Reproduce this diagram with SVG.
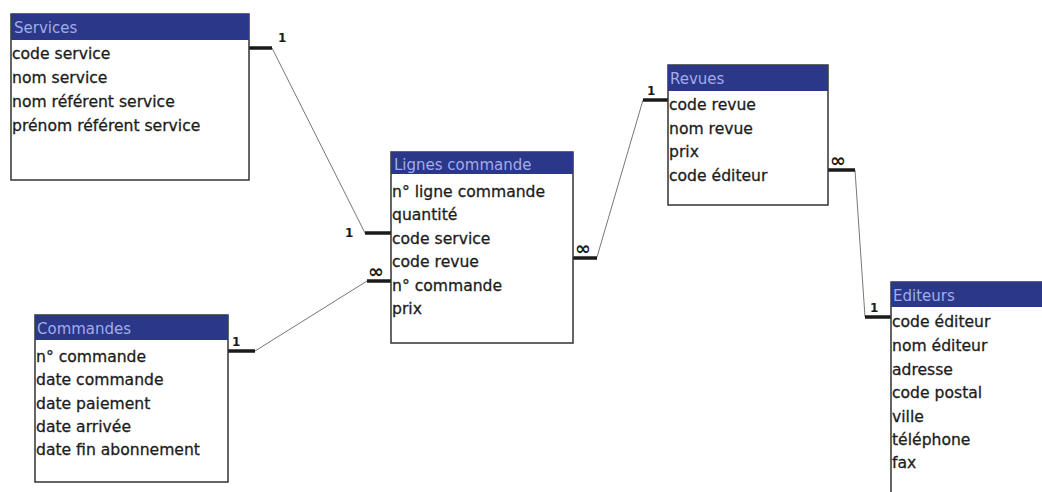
<svg xmlns="http://www.w3.org/2000/svg" width="1042" height="492" viewBox="0 0 1042 492">
<style>
.box{fill:#fff;stroke:#333;stroke-width:1.5}
.hdr{fill:#2b3788}
.ht{font-family:"DejaVu Sans",sans-serif;font-size:15px;fill:#a3ace8}
.rt{font-family:"DejaVu Sans",sans-serif;font-size:15.6px;fill:#1c1c1c;stroke:#1c1c1c;stroke-width:0.3}
.stub{stroke:#1a1a1a;stroke-width:3.5;fill:none}
.ln{stroke:#777;stroke-width:1;fill:none}
.card{font-family:"DejaVu Sans",sans-serif;font-size:12px;font-weight:bold;fill:#1a1a1a}
.inf{font-family:"DejaVu Sans",sans-serif;font-size:19px;font-weight:bold;fill:#1a1a1a}
</style>
<rect width="1042" height="492" fill="#fff"/>
<g id="connectors">
  <path class="ln" d="M272,48 L365,233"/>
  <path class="stub" d="M249,48 H272"/>
  <path class="stub" d="M365,233 H391"/>
  <text class="card" x="278" y="42">1</text>
  <text class="card" x="345" y="237">1</text>
  <path class="ln" d="M255,351 L367,281"/>
  <path class="stub" d="M228,351 H255"/>
  <path class="stub" d="M367,281 H391"/>
  <text class="card" x="232" y="346">1</text>
  <text class="inf" x="368" y="278">∞</text>
  <path class="ln" d="M597,257 L643,100"/>
  <path class="stub" d="M573,258 H597"/>
  <path class="stub" d="M643,100 H668"/>
  <text class="inf" x="575" y="255">∞</text>
  <text class="card" x="647" y="95">1</text>
  <path class="ln" d="M855,170 L865,317"/>
  <path class="stub" d="M828,170 H855"/>
  <path class="stub" d="M865,317 H891"/>
  <text class="inf" x="830" y="167">∞</text>
  <text class="card" x="870" y="312">1</text>
</g>
<g id="services">
  <rect class="box" x="11" y="14" width="238" height="166"/>
  <rect class="hdr" x="11" y="14" width="238" height="26"/>
  <text class="ht" x="14" y="33">Services</text>
  <text class="rt" x="12" y="59">code service</text>
  <text class="rt" x="12" y="83">nom service</text>
  <text class="rt" x="12" y="107">nom référent service</text>
  <text class="rt" x="12" y="131">prénom référent service</text>
</g>
<g id="lignes-commande">
  <rect class="box" x="391" y="152" width="182" height="191"/>
  <rect class="hdr" x="391" y="152" width="182" height="22"/>
  <text class="ht" x="394" y="170">Lignes commande</text>
  <text class="rt" x="392" y="197">n° ligne commande</text>
  <text class="rt" x="392" y="220">quantité</text>
  <text class="rt" x="392" y="244">code service</text>
  <text class="rt" x="392" y="267">code revue</text>
  <text class="rt" x="392" y="291">n° commande</text>
  <text class="rt" x="392" y="314">prix</text>
</g>
<g id="revues">
  <rect class="box" x="668" y="65" width="160" height="140"/>
  <rect class="hdr" x="668" y="65" width="160" height="26"/>
  <text class="ht" x="670" y="84">Revues</text>
  <text class="rt" x="669" y="110">code revue</text>
  <text class="rt" x="669" y="134">nom revue</text>
  <text class="rt" x="669" y="157">prix</text>
  <text class="rt" x="669" y="181">code éditeur</text>
</g>
<g id="commandes">
  <rect class="box" x="35" y="315" width="193" height="167"/>
  <rect class="hdr" x="35" y="315" width="193" height="25"/>
  <text class="ht" x="37" y="334">Commandes</text>
  <text class="rt" x="36" y="362">n° commande</text>
  <text class="rt" x="36" y="385">date commande</text>
  <text class="rt" x="36" y="409">date paiement</text>
  <text class="rt" x="36" y="432">date arrivée</text>
  <text class="rt" x="36" y="455">date fin abonnement</text>
</g>
<g id="editeurs">
  <rect class="box" x="891" y="282" width="160" height="230"/>
  <rect class="hdr" x="891" y="282" width="160" height="25"/>
  <text class="ht" x="893" y="301">Editeurs</text>
  <text class="rt" x="892" y="327">code éditeur</text>
  <text class="rt" x="892" y="351">nom éditeur</text>
  <text class="rt" x="892" y="375">adresse</text>
  <text class="rt" x="892" y="398">code postal</text>
  <text class="rt" x="892" y="422">ville</text>
  <text class="rt" x="892" y="445">téléphone</text>
  <text class="rt" x="892" y="468">fax</text>
</g>
</svg>
